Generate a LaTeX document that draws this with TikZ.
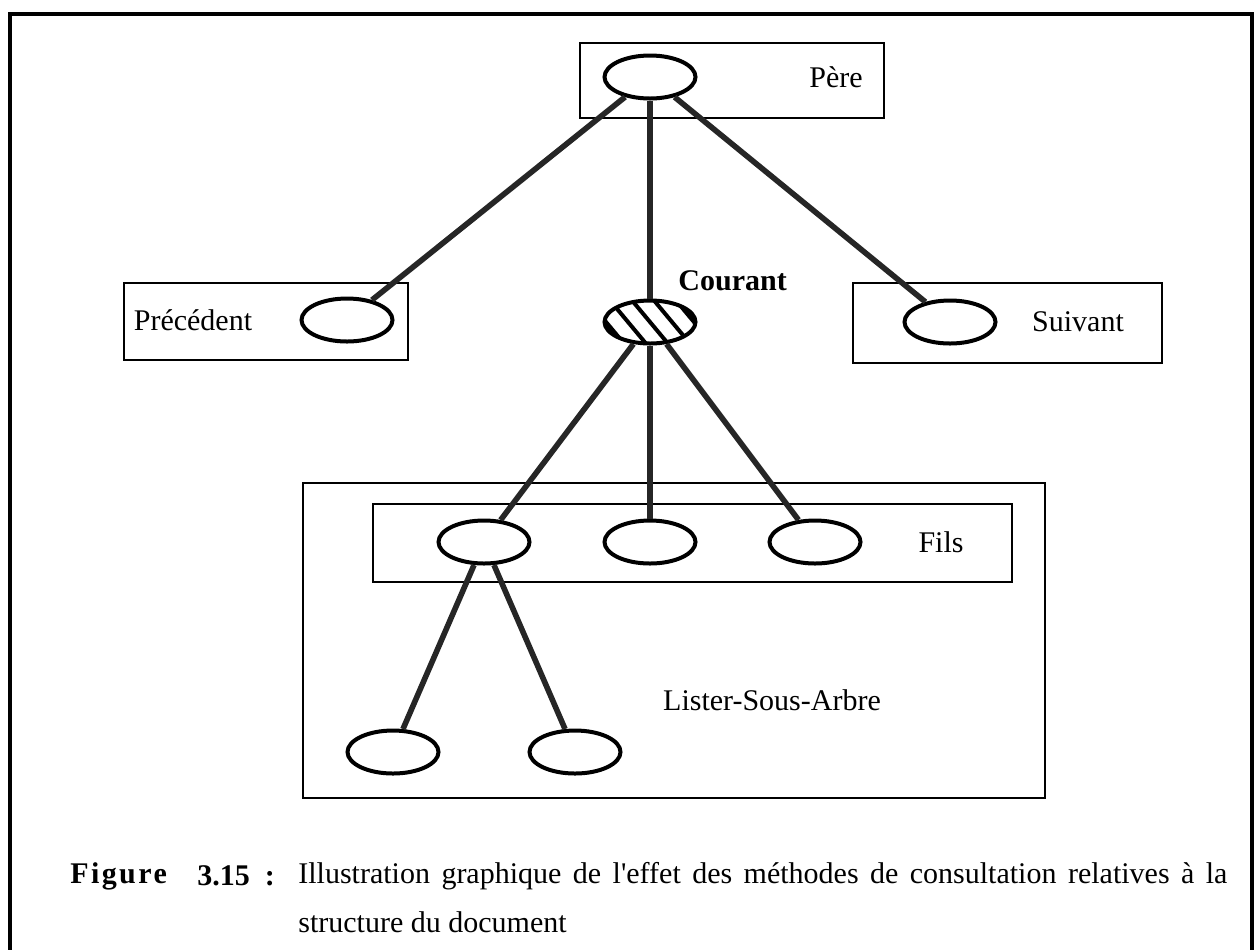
\documentclass[tikz,border=0pt]{standalone}
\usepackage{fontspec}
\setmainfont{Liberation Serif}[Ligatures=TeXOff]
\usetikzlibrary{shapes.geometric}
\begin{document}
\begin{tikzpicture}[x=0.5pt,y=-0.5pt,
  elem/.style={ellipse,draw,line width=2pt,minimum width=45.5pt,minimum height=21.5pt,inner sep=0pt},
  current/.style={elem,path picture={
      \foreach \d in {-22,-11,...,22}
        \draw[line width=2pt] ([xshift=\d pt-12.5pt,yshift=15pt]path picture bounding box.center) -- ++(25pt,-30pt);}},
  zone/.style={draw,line width=1.2pt},
  link/.style={draw=black!85,line width=2.8pt},
  lbl/.style={font=\fontsize{15}{18}\selectfont,inner sep=0pt},
]
\clip (0,0) rectangle (1256,949);
% outer frame
\draw[line width=1.6pt] (10,14) rectangle (1252,990);

% grouping boxes
\draw[zone] (580,43) rectangle (884,118);
\draw[zone] (124,283) rectangle (408,360);
\draw[zone] (853,283) rectangle (1162,363);
\draw[zone] (303,483) rectangle (1045,798);
\draw[zone] (373,504) rectangle (1012,582);

% tree elements
\node[elem] (pere) at (650,77) {};
\node[elem] (prec) at (347,320) {};
\node[current] (cour) at (650,322) {};
\node[elem] (suiv) at (950,322) {};
\node[elem] (f1) at (484,542) {};
\node[elem] (f2) at (650,542) {};
\node[elem] (f3) at (815,542) {};
\node[elem] (g1) at (393,752) {};
\node[elem] (g2) at (575,752) {};

% links
\draw[link] (pere) -- (prec);
\draw[link] (pere) -- (cour);
\draw[link] (pere) -- (suiv);
\draw[link] (cour) -- (f1);
\draw[link] (cour) -- (f2);
\draw[link] (cour) -- (f3);
\draw[link] (f1) -- (g1);
\draw[link] (f1) -- (g2);

% labels
\node[lbl] (tpere) at (836,77) {Père};
\node[lbl] (tprec) at (193,320) {Précédent};
\node[lbl,anchor=west,font=\bfseries\fontsize{15}{18}\selectfont] (tcour) at (678,281) {Courant};
\node[lbl] (tsuiv) at (1078,322) {Suivant};
\node[lbl] (tfils) at (941,542) {Fils};
\node[lbl] (tlsa) at (772,700) {Lister-Sous-Arbre};

% caption
\node[lbl,anchor=west,font=\bfseries\fontsize{15}{18}\selectfont\addfontfeature{LetterSpace=8}] (cfig) at (70,876) {Figure};
\node[lbl,anchor=west,font=\bfseries\fontsize{15}{18}\selectfont] (cnum) at (197,876) {3.15\hspace{0.5em}:};
\node[lbl,anchor=west] (cap1) at (298,876) {\makebox[464.5pt][s]{Illustration graphique de l'effet des méthodes de consultation relatives à la}};
\node[lbl,anchor=west] (cap2) at (298,922) {structure du document};
\end{tikzpicture}
\end{document}
